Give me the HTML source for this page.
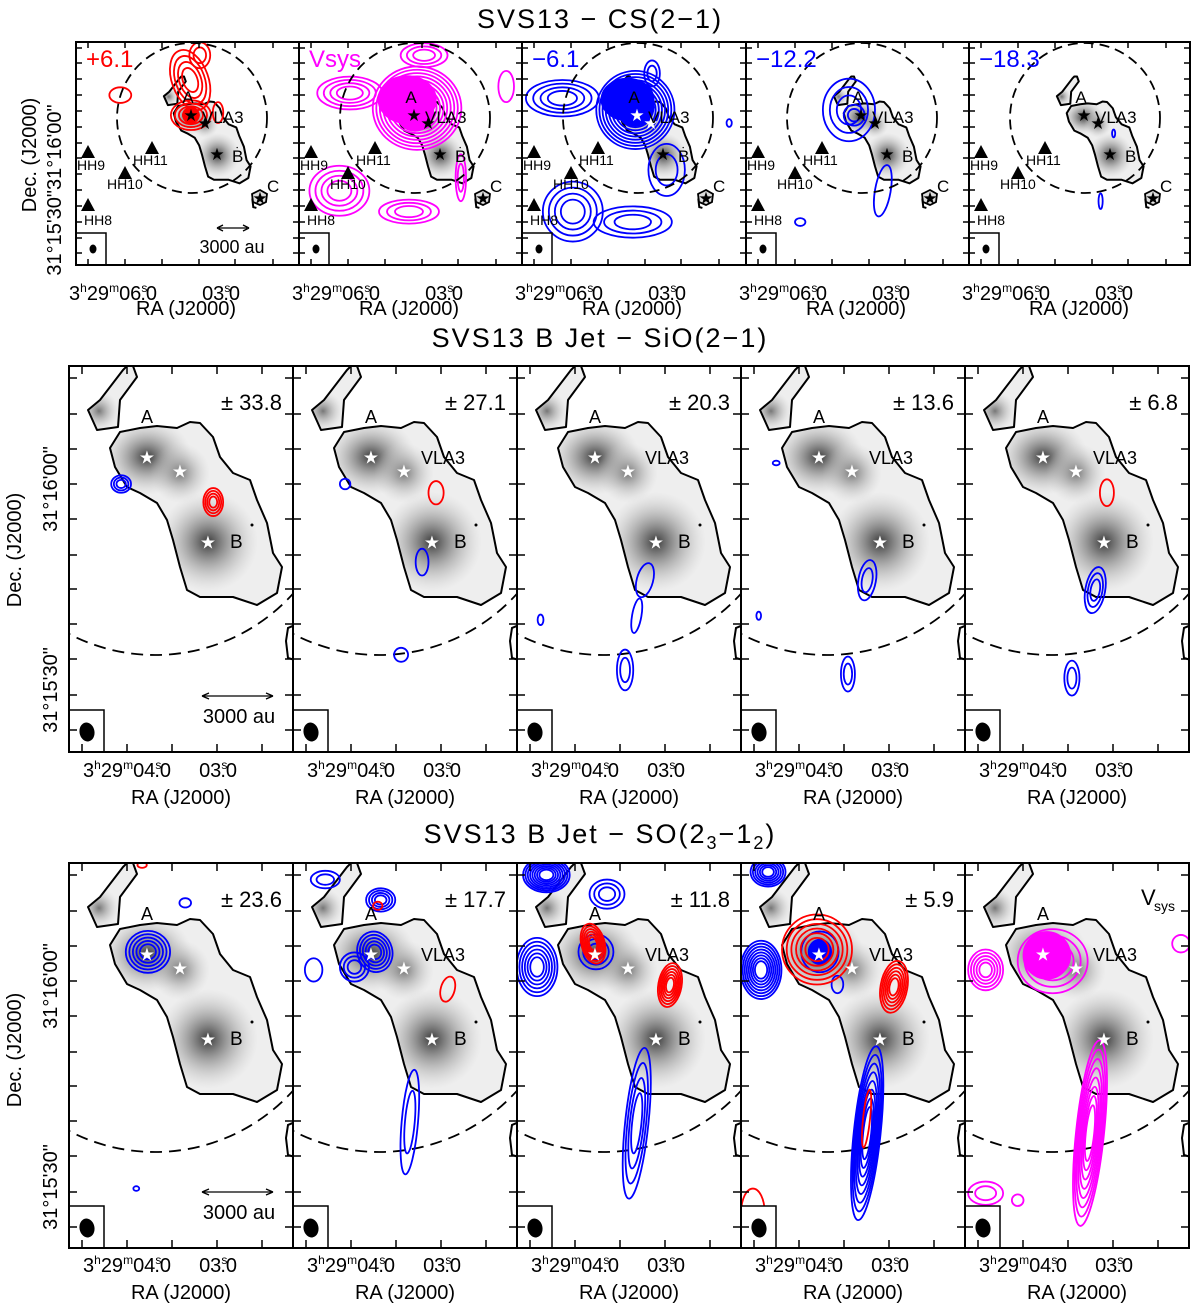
<!DOCTYPE html>
<html><head><meta charset="utf-8"><title>SVS13 channel maps</title>
<style>
html,body{margin:0;padding:0;background:#fff;}
svg{display:block;font-family:"Liberation Sans",sans-serif;}
</style></head>
<body>
<svg id="fig" width="1200" height="1315" viewBox="0 0 1200 1315" xmlns="http://www.w3.org/2000/svg">
<defs>
<radialGradient id="gDark"><stop offset="0" stop-color="#3a3a3a" stop-opacity="1"/><stop offset="1" stop-color="#bbb" stop-opacity="0"/></radialGradient>
<radialGradient id="gMid"><stop offset="0" stop-color="#777" stop-opacity="1"/><stop offset="1" stop-color="#ccc" stop-opacity="0"/></radialGradient>
<clipPath id="blobClip" clipPathUnits="userSpaceOnUse">
<path d="M41,82 L51,66 71,62 88,60 108,62 121,56 131,57 144,71 151,91 164,107 181,114 188,134 198,157 204,187 213,201 208,227 188,239 164,231 131,231 118,224 111,201 104,174 98,154 88,137 71,127 58,121 46,101 Z M19,44 L31,34 54,4 58,0 64,0 68,11 51,34 49,61 28,64 Z"/>
</clipPath>
</defs>
<text x="600" y="28" text-anchor="middle" font-size="27" letter-spacing="2">SVS13 − CS(2−1)</text>
<text x="600" y="347" text-anchor="middle" font-size="27" letter-spacing="2">SVS13 B Jet − SiO(2−1)</text>
<text x="600" y="843" text-anchor="middle" font-size="27" letter-spacing="2">SVS13 B Jet − SO(2<tspan font-size="18" dy="6">3</tspan><tspan dy="-6">−1</tspan><tspan font-size="18" dy="6">2</tspan><tspan dy="-6">)</tspan></text>

<text transform="translate(36,155) rotate(-90)" text-anchor="middle" font-size="20">Dec. (J2000)</text>
<text transform="translate(61,190) rotate(-90)" text-anchor="middle" font-size="20">31°15'30"31°16'00"</text>
<text transform="translate(21,550) rotate(-90)" text-anchor="middle" font-size="20">Dec. (J2000)</text>
<text transform="translate(57,489) rotate(-90)" text-anchor="middle" font-size="20">31°16'00"</text>
<text transform="translate(57,690) rotate(-90)" text-anchor="middle" font-size="20">31°15'30"</text>
<text transform="translate(21,1050) rotate(-90)" text-anchor="middle" font-size="20">Dec. (J2000)</text>
<text transform="translate(57,986) rotate(-90)" text-anchor="middle" font-size="20">31°16'00"</text>
<text transform="translate(57,1187) rotate(-90)" text-anchor="middle" font-size="20">31°15'30"</text>
</svg>
<script>
// ---------- data (offsets in arcsec relative to VLA3; [dx(east), dy(north), rx, ry, rotDeg, levels, filled]) ----------
const csLabels = ["+6.1","Vsys","\u22126.1","\u221212.2","\u221218.3"];
const csColors = ["#ff0000","#ff00ff","#0000ff","#0000ff","#0000ff"];
const csP1 = [[5.7,16.5,7,12,-20,4,0],[2,26,4,5,0,2,0],[5.4,3,7.7,5.7,0,4,0],[5.4,3,3,3,0,1,1],[32.5,10.7,4.2,3,0,1,0],[-5,4,2,4,0,1,0]];
const csP2 = [[4.2,5.7,17,16,0,10,0],[5,4,7,7,0,1,1],[8,9,11,9,0,1,1],[30,11.5,12.5,6.3,0,4,0],[1.5,26,9,4.6,0,3,0],[34,-26,11.5,9.6,0,4,0],[7.3,-34,11.5,4.6,0,3,0],[-12.6,-21,2,9,0,2,0],[-30,14,3,6,0,1,0]];
const csP3 = [[6,5,15,15,0,10,0],[6,6,7,7,0,1,1],[9,9,10,8,0,1,1],[34,9.5,14,7,0,4,0],[-0.4,19,3,5,0,2,0],[30,-34,11.5,11.5,0,4,0],[7,-38,15,6,0,3,0],[-6,-18,7,10,0,2,0],[-30,0,1,1.5,0,1,0]];
const csP4 = [[10,5,10,12,0,3,0],[8,3,4,4,0,2,0],[-3,-26,3,10,10,1,0],[28.7,-38,2,1.5,0,1,0]];
const csP5 = [[-1,-30,0.8,3,0,1,0],[-6,-4,0.6,1.5,0,1,0]];
const csPanels = [csP1,csP2,csP3,csP4,csP5];

const sioLabels = ["\u00b1 33.8","\u00b1 27.1","\u00b1 20.3","\u00b1 13.6","\u00b1 6.8"];
const sioRed = [[[-5.7,-5.5,1.7,2.4,0,4,0]],[[-5.5,-3.9,1.3,2,0,1,0]],[],[],[[-5.3,-3.9,1.2,2.3,0,1,0]]];
const sioBlue = [
 [[10.1,-2.4,1.7,1.5,0,3,0]],
 [[10.1,-2.4,0.9,0.9,0,1,0],[-3.1,-15.8,1.1,2.3,0,1,0],[0.5,-31.7,1.2,1.2,0,1,0]],
 [[-2.9,-18.9,1.4,3,15,1,0],[-1.5,-25,0.8,3,10,1,0],[0.5,-34.3,1.4,3.5,0,2,0],[15,-25.7,0.5,0.9,0,1,0]],
 [[-2.6,-18.9,1.5,3.5,10,2,0],[0.7,-35,1.2,3,0,2,0],[13,1.2,0.6,0.4,0,1,0],[16,-25,0.4,0.7,0,1,0]],
 [[-3.3,-20.6,1.7,4,10,3,0],[0.7,-35.7,1.3,3,0,2,0]]
];

const soLabels = ["\u00b1 23.6","\u00b1 17.7","\u00b1 11.8","\u00b1 5.9","V"];
const soRed = [
 [[6.5,17.5,0.8,0.5,0,1,0]],
 [[4.5,10.5,0.8,0.7,0,1,0],[-7.5,-3.8,1.2,2.2,15,1,0]],
 [[6,4,2,3.5,-15,6,0],[-7.2,-3.1,2,3.8,10,6,0]],
 [[6,3,6,6,0,6,0],[-7.2,-3.4,2.3,4.5,10,6,0],[-2.5,-26,0.6,5,6,1,0],[17,-42,2,4,0,1,0]],
 []
];
const soBlue = [
 [[5.5,2.6,3.8,3.6,0,5,0],[-0.9,11,1,0.8,0,1,0],[7.5,-38,0.5,0.4,0,1,0]],
 [[5,2.6,3,3.5,-15,5,0],[8.5,0,2.5,2.5,0,3,0],[13.5,15,2.5,1.5,0,2,0],[4,11.5,2.5,2,0,4,0],[15.5,-0.5,1.5,2,0,1,0],[-1,-26.6,1.4,9,5,2,0]],
 [[14,15.8,4,3,0,8,0],[3.6,12.5,3,2.5,0,3,0],[15.6,0,3.5,5,0,6,0],[5.5,2.6,3,3,0,3,0],[-1.5,-26.8,2,13,6,4,0]],
 [[5.5,2.6,3.2,3.5,0,2,1],[15.6,-0.5,3.5,5,0,8,0],[14.4,16.3,3,2.5,0,6,0],[-2.6,-28.5,2.3,15,6,8,0],[2.5,-3,1,1.5,0,1,0]],
 []
];
const soMag = [[],[],[],[],[[5,2,4,4,0,1,1],[4,1,6,5.5,0,4,0],[15.5,-0.5,3,3.5,0,5,0],[-2.4,-28.5,2.4,16,6,8,0],[15.5,-38.8,3,2,0,2,0],[10,-40,1,1,0,1,0],[-18,4,1.5,1.5,0,1,0]]];

// ---------- scales ----------
const S = 5.83, OX = 111, OY = 104;
function xS(dx){ return OX - dx*S; }
function yS(dy){ return OY - dy*S; }

const NS = "http://www.w3.org/2000/svg";
const svg = document.getElementById("fig");
function mk(tag, attrs, parent){
  const e = document.createElementNS(NS, tag);
  for (const k in attrs) e.setAttribute(k, attrs[k]);
  parent.appendChild(e);
  return e;
}
const BLOB = "M41,82 L51,66 71,62 88,60 108,62 121,56 131,57 144,71 151,91 164,107 181,114 188,134 198,157 204,187 213,201 208,227 188,239 164,231 131,231 118,224 111,201 104,174 98,154 88,137 71,127 58,121 46,101 Z M19,44 L31,34 54,4 58,0 64,0 68,11 51,34 49,61 28,64 Z";

function drawSource(g){
  const bg = mk("g", {"clip-path":"url(#blobClip)"}, g);
  
  
  mk("rect", {x:0,y:0,width:230,height:250,fill:"#eeeeee"}, bg);
  mk("ellipse", {cx:78,cy:91,rx:45,ry:38,fill:"url(#gDark)"}, bg);
  mk("ellipse", {cx:111,cy:107,rx:30,ry:30,fill:"url(#gMid)"}, bg);
  mk("ellipse", {cx:139,cy:176,rx:50,ry:50,fill:"url(#gDark)"}, bg);
  mk("ellipse", {cx:30,cy:45,rx:20,ry:20,fill:"url(#gMid)"}, bg);
  const outl = mk("path", {d:BLOB, fill:"none", stroke:"#000", "stroke-width":2, "vector-effect":"non-scaling-stroke", "stroke-linejoin":"round"}, g);
  
  
  mk("path", {d:"M226,259 L219,262 217,275 219,292 226,294", fill:"none", stroke:"#000", "stroke-width":2, "vector-effect":"non-scaling-stroke"}, g);
  mk("circle", {cx:183,cy:159,r:1.5,fill:"#000"}, g);
}

function drawComps(g, comps, color, name){
  comps.forEach(function(c){
    const cx = xS(c[0]), cy = yS(c[1]);
    const n = c[5];
    for (let i = 0; i < n; i++){
      const k = n > 1 ? 1 - i*0.8/n : 1;
      const fill = (c[6] && i === n-1) ? color : "none";
      const e = mk("ellipse", {cx:cx, cy:cy, rx:c[2]*S*k, ry:c[3]*S*k, transform:"rotate("+c[4]+" "+cx+" "+cy+")", fill:fill, stroke:color, "stroke-width":1.8, "vector-effect":"non-scaling-stroke"}, g);
      
      
    }
  });
}

function star(g, x, y, color, size){
  const t = mk("text", {x:x, y:y+size*0.36, "text-anchor":"middle", "font-size":size, fill:color}, g);
  t.textContent = "\u2605";
  
  
}
function txt(g, x, y, s, size, attrs){
  const t = mk("text", Object.assign({x:x, y:y, "font-size":size}, attrs||{}), g);
  t.textContent = s;
  return t;
}

function raLabel(g, xEnd, y, sec, size){
  const t = mk("text", {x:xEnd, y:y, "text-anchor":"end", "font-size":size}, g);
  
  
  const parts = sec === "03" ? [["03",0],["s",-1],[".0",1]] : [["3",0],["h",-1],["29",1],["m",-1],[sec,1],["s",-1],[".0",1]];
  parts.forEach(function(p){
    const ts = document.createElementNS(NS, "tspan");
    if (p[1] === -1){ ts.setAttribute("font-size", size*0.6); ts.setAttribute("dy", -size*0.4); }
    else if (p[1] === 1){ ts.setAttribute("dy", size*0.4); }
    if (p[0] === ".0") ts.setAttribute("dx", -size*0.35);
    ts.textContent = p[0];
    t.appendChild(ts);
  });
}

function ticks(g, w, h, xt, yt, len){
  xt.forEach(function(x){
    mk("line",{x1:x,y1:0,x2:x,y2:len,stroke:"#000","stroke-width":1.5},g);
    mk("line",{x1:x,y1:h,x2:x,y2:h-len,stroke:"#000","stroke-width":1.5},g);
  });
  yt.forEach(function(y){
    mk("line",{x1:0,y1:y,x2:len,y2:y,stroke:"#000","stroke-width":1.5},g);
    mk("line",{x1:w,y1:y,x2:w-len,y2:y,stroke:"#000","stroke-width":1.5},g);
  });
}

// ---------- row 1: CS ----------
const r1Edges = [76,299,522,746,969,1190];
for (let p = 0; p < 5; p++){
  const x0 = r1Edges[p], w = r1Edges[p+1]-x0, h = 223, y0 = 42;
  const outer = mk("g", {transform:"translate("+x0+","+y0+")"}, svg);
  
  
  const cp = mk("clipPath", {id:"c1"+p}, svg);
  mk("rect", {x:0,y:0,width:w,height:h}, cp);
  const clip = mk("g", {"clip-path":"url(#c1"+p+")"}, outer);
  const sg = mk("g", {transform:"translate(129,81) scale(0.447) translate(-111,-104)"}, clip);
  drawSource(sg);
  mk("path",{d:"M176,152 L184,148 191,152 190,160 184,163 177,160 Z",fill:"#ddd",stroke:"#000","stroke-width":1.8},clip);
  drawComps(sg, csPanels[p], csColors[p], 'cs-contour');
  const circ = mk("circle",{cx:116,cy:76,r:75,fill:"none",stroke:"#000","stroke-width":1.8,"stroke-dasharray":"10 6"},clip);
  
  
  const sc = p === 2 ? "#fff" : "#000";
  star(clip,115,73,sc,17); star(clip,129,81,sc,17);
  star(clip,141,112,"#000",17); star(clip,184,156,"#000",17);
  txt(clip,112,61,"A",17,{"text-anchor":"middle"});
  txt(clip,126,81,"VLA3",17);
  txt(clip,156,120,"B",17);
  txt(clip,191,150,"C",17);
  const hh = [[12,110,"HH9",1,128],[76,106,"HH11",57,123],[49,131,"HH10",31,147],[12,163,"HH8",8,183]];
  hh.forEach(function(q){
    mk("path",{d:"M"+(q[0]-7)+","+(q[1]+6)+" L"+q[0]+","+(q[1]-7)+" L"+(q[0]+7)+","+(q[1]+6)+" Z",fill:"#000"},clip);
    const lt = txt(clip,q[3],q[4],q[2],14);
    
    
  });
  mk("rect",{x:0,y:191,width:30,height:40,fill:"#fff",stroke:"#000","stroke-width":1.5},clip);
  mk("ellipse",{cx:17,cy:207,rx:3.5,ry:4.5,fill:"#000"},clip);
  const vl = txt(clip,10,25,csLabels[p],24,{fill:csColors[p]});
  
  
  if (p === 0){
    mk("line",{x1:143,y1:186,x2:171,y2:186,stroke:"#000","stroke-width":1.3},clip);
    mk("path",{d:"M141,186 l6,-3 M141,186 l6,3 M173,186 l-6,-3 M173,186 l-6,3",stroke:"#000","stroke-width":1.3},clip);
    const sb = txt(clip,156,211,"3000  au",18,{"text-anchor":"middle"});
    
    
  }
  ticks(outer, w, h, [12,49,86,123,159,197], [6,21,37,53,69,85,101,116,132,148,164,180,196,211], 6);
  mk("rect",{x:0,y:0,width:w,height:h,fill:"none",stroke:"#000","stroke-width":2},outer);
  raLabel(outer, 81, 258, "06", 20);
  raLabel(outer, 164, 258, "03", 20);
  const ra = txt(outer, 110, 273, "RA (J2000)", 20, {"text-anchor":"middle"});
  
  
}

// ---------- rows 2 & 3: SiO and SO ----------
const r2Edges = [69,293,517,741,965,1189];
function bigRow(y0, h, rowName, labels, redA, blueA, magA, raY){
  for (let p = 0; p < 5; p++){
    const x0 = r2Edges[p], w = r2Edges[p+1]-x0;
    const outer = mk("g", {transform:"translate("+x0+","+y0+")"}, svg);
    
    
    const cp = mk("clipPath", {id:"c"+rowName+p}, svg);
    mk("rect", {x:0,y:0,width:w,height:h}, cp);
    const clip = mk("g", {"clip-path":"url(#c"+rowName+p+")"}, outer);
    drawSource(clip);
    const circ = mk("circle",{cx:86,cy:103,r:186,fill:"none",stroke:"#000","stroke-width":1.8,"stroke-dasharray":"12 7"},clip);
    
    
    drawComps(clip, blueA[p], "#0000ff", rowName + '-blue-contour');
    drawComps(clip, redA[p], "#ff0000", rowName + '-red-contour');
    drawComps(clip, magA[p], "#ff00ff", rowName + '-vsys-contour');
    star(clip,78,91,"#fff",18); star(clip,111,105,"#fff",18); star(clip,139,176,"#fff",18);
    txt(clip,78,57,"A",18,{"text-anchor":"middle"});
    if (p > 0) txt(clip,128,98,"VLA3",18);
    txt(clip,161,182,"B",19);
    mk("rect",{x:0,y:h-42,width:35,height:44,fill:"#fff",stroke:"#000","stroke-width":1.5},clip);
    mk("ellipse",{cx:18,cy:h-20,rx:7.5,ry:9.5,transform:"rotate(-10 18 "+(h-20)+")",fill:"#000"},clip);
    if (labels[p] === "V"){
      const v = txt(clip,176,42,"V",22);
      
      
      txt(clip,189,48,"sys",14);
    } else {
      const v = txt(clip,213,44,labels[p],22,{"text-anchor":"end"});
      
      
    }
    if (p === 0){
      mk("line",{x1:134,y1:h-56,x2:203,y2:h-56,stroke:"#000","stroke-width":1.3},clip);
      mk("path",{d:"M133,"+(h-56)+" l7,-3 M133,"+(h-56)+" l7,3 M204,"+(h-56)+" l-7,-3 M204,"+(h-56)+" l-7,3",stroke:"#000","stroke-width":1.3},clip);
      const sb = txt(clip,170,h-29,"3000  au",20,{"text-anchor":"middle"});
      
      
    }
    ticks(outer, w, h, [13,58,103,148,193], [12,48,83,118,153,189,223,258,293,329,364], 8);
    mk("rect",{x:0,y:0,width:w,height:h,fill:"none",stroke:"#000","stroke-width":2},outer);
    raLabel(outer, 102, raY, "04", 20);
    raLabel(outer, 168, raY, "03", 20);
    const ra = txt(outer, 112, raY+27, "RA (J2000)", 20, {"text-anchor":"middle"});
    
    
  }
}
bigRow(366, 386, "sio", sioLabels, sioRed, sioBlue, [[],[],[],[],[]], 411);
bigRow(863, 385, "so", soLabels, soRed, soBlue, soMag, 409);
</script>
</body></html>
